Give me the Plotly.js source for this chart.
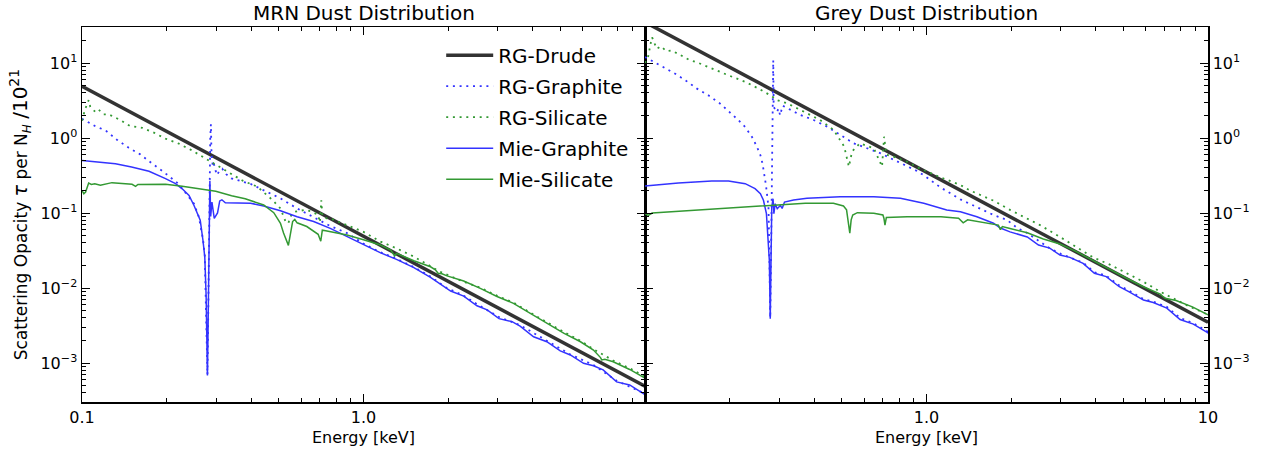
<!DOCTYPE html>
<html>
<head>
<meta charset="utf-8">
<script src="https://cdn.plot.ly/plotly-3.0.1.min.js"></script>
<style>
  html, body { margin: 0; padding: 0; background: #fff; }
  #chart { width: 1261px; height: 452px; }
</style>
</head>
<body>
<div id="chart"></div>
<script>
// ---- MRN dust distribution (energy in keV, scattering opacity per N_H/1e21) ----
const mrnDrudeE = [0.1, 1.0, 10.0];
const mrnDrude  = [4.9, 0.049, 0.00049];

const mrnRgGraE = [0.1, 0.1116, 0.121, 0.133, 0.1466, 0.161, 0.177, 0.193, 0.22, 0.236, 0.25, 0.26, 0.269, 0.273, 0.2775, 0.279, 0.2805, 0.282, 0.2835, 0.2855, 0.287, 0.2885, 0.2915, 0.294, 0.298, 0.302, 0.308, 0.315, 0.325, 0.339, 0.397, 0.442, 0.507, 0.581, 0.665, 0.762, 0.874, 1.0, 1.146, 1.31, 1.51, 1.73, 1.96, 2.27, 2.53, 3.03, 3.6, 4.48, 5.43, 6.56, 7.93, 10.0];
const mrnRgGra  = [1.81, 1.43, 1.27, 0.95, 0.74, 0.605, 0.46, 0.363, 0.246, 0.177, 0.133, 0.089, 0.045, 0.027, 0.003, 0.0007, 0.003, 0.03, 0.3, 1.0, 1.52, 0.6, 0.42, 0.455, 0.37, 0.32, 0.37, 0.39, 0.33, 0.29, 0.244, 0.199, 0.157, 0.115, 0.089, 0.067, 0.054, 0.039, 0.030, 0.0245, 0.019, 0.0142, 0.0102, 0.0079, 0.0061, 0.0041, 0.0032, 0.00197, 0.0013, 0.00094, 0.00058, 0.00039];

const mrnRgSilE = [0.1, 0.1025, 0.1056, 0.107, 0.1116, 0.1146, 0.1194, 0.1244, 0.1358, 0.148, 0.1635, 0.18, 0.198, 0.2208, 0.243, 0.271, 0.2846, 0.294, 0.31, 0.336, 0.372, 0.42, 0.442, 0.475, 0.507, 0.518, 0.53, 0.541, 0.55, 0.57, 0.62, 0.65, 0.69, 0.70, 0.708, 0.715, 0.74, 0.76, 0.874, 1.0, 1.15, 1.31, 1.51, 1.73, 1.87, 2.27, 2.6, 2.98, 3.41, 3.91, 4.48, 5.14, 5.9, 6.56, 7.71, 8.82, 10.0];
const mrnRgSil  = [1.7, 2.4, 3.2, 2.6, 2.22, 2.39, 2.07, 2.07, 1.76, 1.45, 1.37, 1.18, 0.98, 0.84, 0.70, 0.55, 0.49, 0.455, 0.41, 0.34, 0.27, 0.224, 0.19, 0.149, 0.115, 0.091, 0.075, 0.073, 0.09, 0.104, 0.11, 0.105, 0.095, 0.075, 0.148, 0.09, 0.085, 0.085, 0.069, 0.056, 0.0415, 0.0338, 0.0262, 0.0192, 0.0165, 0.0121, 0.0101, 0.0079, 0.0064, 0.0047, 0.0035, 0.0026, 0.00198, 0.00153, 0.00108, 0.00085, 0.00066];

const mrnMieGraE = [0.1, 0.1315, 0.15, 0.173, 0.198, 0.215, 0.227, 0.24, 0.25, 0.263, 0.269, 0.273, 0.276, 0.2775, 0.279, 0.2805, 0.282, 0.2835, 0.2846, 0.2865, 0.2895, 0.295, 0.303, 0.3085, 0.314, 0.323, 0.37, 0.397, 0.442, 0.507, 0.581, 0.665, 0.762, 0.874, 1.0, 1.146, 1.31, 1.51, 1.73, 1.96, 2.04, 2.27, 2.53, 2.75, 3.03, 3.37, 3.6, 4.02, 4.48, 5.0, 5.43, 6.05, 6.56, 7.1, 7.93, 8.82, 9.87, 10.0];
const mrnMieGra  = [0.50, 0.455, 0.41, 0.36, 0.287, 0.246, 0.21, 0.172, 0.126, 0.080, 0.043, 0.026, 0.008, 0.0025, 0.00068, 0.003, 0.02, 0.12, 0.27, 0.09, 0.14, 0.085, 0.10, 0.145, 0.15, 0.137, 0.137, 0.135, 0.124, 0.107, 0.089, 0.077, 0.0625, 0.049, 0.0386, 0.0296, 0.0241, 0.0187, 0.0139, 0.0099, 0.0091, 0.0078, 0.0058, 0.0051, 0.0039, 0.00356, 0.00311, 0.00224, 0.00192, 0.00145, 0.00128, 0.00099, 0.00092, 0.00081, 0.00056, 0.00051, 0.00039, 0.00038];

const mrnMieSilE = [0.1, 0.1015, 0.103, 0.1056, 0.108, 0.111, 0.1162, 0.1278, 0.1506, 0.155, 0.158, 0.198, 0.227, 0.26, 0.2986, 0.34, 0.38, 0.442, 0.48, 0.507, 0.52, 0.541, 0.55, 0.56, 0.57, 0.581, 0.629, 0.674, 0.69, 0.705, 0.714, 0.734, 0.795, 0.874, 1.0, 1.15, 1.25, 1.29, 1.31, 1.51, 1.73, 1.80, 1.84, 1.90, 1.98, 2.27, 2.6, 2.98, 3.41, 3.91, 4.48, 5.14, 5.9, 6.56, 6.95, 7.02, 7.2, 7.71, 8.82, 9.87, 10.0];
const mrnMieSil  = [0.20, 0.18, 0.19, 0.251, 0.24, 0.245, 0.234, 0.254, 0.241, 0.227, 0.24, 0.241, 0.227, 0.211, 0.195, 0.170, 0.155, 0.128, 0.101, 0.073, 0.054, 0.037, 0.054, 0.077, 0.082, 0.074, 0.066, 0.056, 0.052, 0.042, 0.059, 0.058, 0.055, 0.051, 0.044, 0.0374, 0.032, 0.0267, 0.029, 0.0231, 0.0192, 0.0175, 0.0157, 0.0155, 0.0145, 0.0124, 0.0099, 0.0077, 0.00625, 0.0046, 0.0034, 0.0025, 0.00192, 0.00149, 0.00118, 0.0011, 0.00112, 0.00104, 0.00082, 0.00064, 0.00063];

// ---- Grey dust distribution ----
const greyDrudeE = [0.1, 1.0, 10.0];
const greyDrude  = [35, 0.35, 0.0035];

const greyRgGraE = [0.1, 0.11, 0.116, 0.128, 0.139, 0.153, 0.168, 0.185, 0.2, 0.215, 0.227, 0.24, 0.25, 0.257, 0.2615, 0.266, 0.269, 0.272, 0.2746, 0.2765, 0.2786, 0.2805, 0.2825, 0.284, 0.2855, 0.2865, 0.29, 0.294, 0.298, 0.302, 0.308, 0.315, 0.323, 0.337, 0.356, 0.397, 0.443, 0.494, 0.551, 0.615, 0.687, 0.767, 0.856, 0.93, 1.0, 1.12, 1.32, 1.46, 1.58, 1.73, 1.93, 2.11, 2.28, 2.5, 2.74, 3.0, 3.3, 3.6, 3.95, 4.35, 4.84, 5.25, 5.9, 6.39, 7.14, 7.96, 8.87, 10.0];
const greyRgGra  = [12, 10, 8.85, 7.2, 5.9, 4.55, 3.7, 2.87, 2.22, 1.72, 1.40, 1.03, 0.76, 0.59, 0.455, 0.318, 0.234, 0.163, 0.12, 0.03, 0.004, 0.03, 0.5, 4.0, 10.9, 2.6, 2.4, 2.22, 2.46, 2.0, 2.7, 2.59, 2.46, 2.29, 2.03, 1.74, 1.42, 1.1, 0.85, 0.73, 0.625, 0.51, 0.415, 0.36, 0.30, 0.22, 0.152, 0.128, 0.11, 0.094, 0.081, 0.0625, 0.054, 0.043, 0.0338, 0.0285, 0.0249, 0.0218, 0.0162, 0.0146, 0.0108, 0.0092, 0.0071, 0.0066, 0.0056, 0.0040, 0.0034, 0.0026];

const greyRgSilE = [0.1, 0.1025, 0.105, 0.106, 0.11, 0.114, 0.119, 0.124, 0.131, 0.143, 0.155, 0.1727, 0.198, 0.227, 0.2534, 0.2825, 0.294, 0.32, 0.366, 0.419, 0.468, 0.51, 0.53, 0.544, 0.58, 0.65, 0.695, 0.707, 0.72, 0.767, 0.856, 0.95, 1.12, 1.32, 1.43, 1.55, 1.73, 1.98, 2.28, 2.53, 2.98, 3.41, 3.91, 4.48, 5.14, 5.9, 6.77, 7.53, 8.4, 10.0];
const greyRgSil  = [10, 12, 19, 22, 15.5, 16.7, 14.4, 14.7, 13.3, 11.1, 10, 8.4, 6.85, 5.6, 4.55, 3.6, 3.2, 2.9, 2.24, 1.74, 1.28, 0.77, 0.415, 0.66, 0.85, 0.73, 0.415, 1.04, 0.6, 0.56, 0.48, 0.39, 0.30, 0.236, 0.199, 0.174, 0.146, 0.11, 0.085, 0.069, 0.048, 0.0348, 0.0256, 0.0205, 0.0157, 0.0121, 0.0089, 0.0073, 0.0059, 0.0044];

const greyMieGraE = [0.1, 0.1314, 0.1727, 0.198, 0.227, 0.246, 0.257, 0.2635, 0.27, 0.273, 0.2765, 0.2786, 0.2805, 0.282, 0.285, 0.287, 0.29, 0.295, 0.3025, 0.307, 0.313, 0.323, 0.337, 0.376, 0.494, 0.65, 0.808, 0.978, 1.18, 1.32, 1.51, 1.73, 1.83, 1.98, 2.28, 2.5, 2.74, 2.98, 3.23, 3.6, 3.95, 4.35, 4.84, 5.25, 5.9, 6.39, 7.14, 7.96, 8.87, 9.93, 10.0];
const greyMieGra  = [0.229, 0.251, 0.267, 0.267, 0.246, 0.211, 0.181, 0.148, 0.098, 0.053, 0.0234, 0.0039, 0.03, 0.12, 0.155, 0.098, 0.133, 0.114, 0.126, 0.115, 0.14, 0.145, 0.149, 0.157, 0.165, 0.165, 0.157, 0.135, 0.11, 0.104, 0.089, 0.073, 0.063, 0.056, 0.048, 0.0374, 0.034, 0.0275, 0.0256, 0.0213, 0.0157, 0.0142, 0.0104, 0.0089, 0.0069, 0.0064, 0.0054, 0.0038, 0.0033, 0.00256, 0.0025];

const greyMieSilE = [0.1, 0.1028, 0.106, 0.131, 0.1727, 0.227, 0.2986, 0.371, 0.467, 0.507, 0.52, 0.527, 0.534, 0.54, 0.547, 0.568, 0.65, 0.70, 0.706, 0.712, 0.72, 0.854, 1.125, 1.3, 1.35, 1.4, 1.55, 1.73, 1.80, 1.83, 1.86, 1.98, 2.28, 2.6, 2.98, 3.41, 3.91, 4.48, 5.14, 5.9, 6.77, 6.95, 7.05, 7.7, 8.8, 10.0];
const greyMieSil  = [0.098, 0.093, 0.10, 0.105, 0.113, 0.12, 0.129, 0.135, 0.135, 0.124, 0.11, 0.081, 0.054, 0.081, 0.094, 0.101, 0.099, 0.094, 0.085, 0.069, 0.087, 0.089, 0.089, 0.085, 0.074, 0.081, 0.076, 0.071, 0.069, 0.060, 0.066, 0.062, 0.0545, 0.045, 0.0386, 0.0305, 0.0231, 0.0174, 0.0135, 0.0104, 0.0083, 0.0076, 0.0073, 0.0068, 0.0056, 0.0044];

// ---- labels ----
const seriesNames = ['RG-Drude', 'RG-Graphite', 'RG-Silicate', 'Mie-Graphite', 'Mie-Silicate'];
const panelTitles = ['MRN Dust Distribution', 'Grey Dust Distribution'];
const xTickVals = [0.1, 1, 10];
const xTickTextLeft = ['0.1', '1.0', ''];
const xTickTextRight = ['', '1.0', '10'];
const yTickVals = [1e-3, 1e-2, 1e-1, 1, 10];
const yTickText = ['10<sup>\u22123</sup>', '10<sup>\u22122</sup>', '10<sup>\u22121</sup>', '10<sup>0</sup>', '10<sup>1</sup>'];
const xTitle = 'Energy [keV]';
const yTitle = 'Scattering Opacity <span style="font-size:19px"><i>\u03c4</i></span> per N<sub><i>H</i></sub> ' +
               '<span style="font-size:20px">/10<sup>21</sup></span>';

// ---- styles ----
const styles = [
  { color: '#333333', width: 3.5, dash: 'solid' },
  { color: '#3333ff', width: 1.8, dash: '2px,4.7px' },
  { color: '#339933', width: 1.8, dash: '2px,4.7px' },
  { color: '#3333ff', width: 1.5, dash: 'solid' },
  { color: '#339933', width: 1.5, dash: 'solid' }
];

const panels = [
  { xa: 'x', ya: 'y', data: [[mrnDrudeE, mrnDrude], [mrnRgGraE, mrnRgGra], [mrnRgSilE, mrnRgSil], [mrnMieGraE, mrnMieGra], [mrnMieSilE, mrnMieSil]] },
  { xa: 'x2', ya: 'y2', data: [[greyDrudeE, greyDrude], [greyRgGraE, greyRgGra], [greyRgSilE, greyRgSil], [greyMieGraE, greyMieGra], [greyMieSilE, greyMieSil]] }
];

const traces = [];
panels.forEach((p, pi) => {
  p.data.forEach((d, si) => {
    traces.push({
      x: d[0], y: d[1], xaxis: p.xa, yaxis: p.ya,
      type: 'scatter', mode: 'lines', name: seriesNames[si],
      showlegend: pi === 0, legendgroup: seriesNames[si],
      line: { color: styles[si].color, width: styles[si].width, dash: styles[si].dash },
      hoverinfo: 'skip'
    });
  });
});

const FONT = 'DejaVu Sans, Verdana, sans-serif';
const minorTicks = { ticks: 'inside', ticklen: 4, tickwidth: 1, tickcolor: '#000', dtick: 'D1', showgrid: false };

function xAxis(domain, anchor, texts) {
  return {
    type: 'log', domain: domain, anchor: anchor, range: [-1, 1],
    tickmode: 'array', tickvals: xTickVals, ticktext: texts,
    ticks: 'inside', ticklen: 8, tickwidth: 1, tickcolor: '#000',
    minor: minorTicks,
    showline: true, linecolor: '#000', linewidth: 1.5, mirror: 'ticks',
    showgrid: false, zeroline: false,
    tickfont: { family: FONT, size: 16, color: '#000' },
    title: { text: xTitle, font: { family: FONT, size: 16, color: '#000' }, standoff: 6 }
  };
}
function yAxis(anchor, side, withTitle) {
  const ax = {
    type: 'log', anchor: anchor, side: side, range: [-3.52, 1.48], domain: [0, 1],
    tickmode: 'array', tickvals: yTickVals, ticktext: yTickText,
    ticks: 'inside', ticklen: 8, tickwidth: 1, tickcolor: '#000',
    minor: minorTicks,
    showline: true, linecolor: '#000', linewidth: 1.5, mirror: 'ticks',
    showgrid: false, zeroline: false,
    tickfont: { family: FONT, size: 16, color: '#000' }
  };
  if (withTitle) ax.title = { text: yTitle, font: { family: FONT, size: 17, color: '#000' }, standoff: 8 };
  return ax;
}

const layout = {
  width: 1261, height: 452,
  margin: { l: 82, r: 53, t: 27, b: 50 },
  paper_bgcolor: '#fff', plot_bgcolor: '#fff',
  font: { family: FONT, color: '#000' },
  xaxis: xAxis([0, 0.5], 'y', xTickTextLeft),
  xaxis2: xAxis([0.5, 1], 'y2', xTickTextRight),
  yaxis: yAxis('x', 'left', true),
  yaxis2: yAxis('x2', 'right', false),
  showlegend: true,
  legend: {
    x: 0.319, y: 0.977, xanchor: 'left', yanchor: 'top',
    bgcolor: 'rgba(0,0,0,0)', borderwidth: 0,
    font: { family: FONT, size: 20, color: '#000' },
    itemwidth: 47, tracegroupgap: 2
  },
  annotations: panelTitles.map((t, i) => ({
    text: t, xref: 'paper', yref: 'paper', x: i === 0 ? 0.25 : 0.75, y: 1,
    xanchor: 'center', yanchor: 'bottom', yshift: 0, showarrow: false,
    font: { family: FONT, size: 20, color: '#000' }
  }))
};

Plotly.newPlot('chart', traces, layout, { staticPlot: true, displayModeBar: false });
</script>
</body>
</html>
